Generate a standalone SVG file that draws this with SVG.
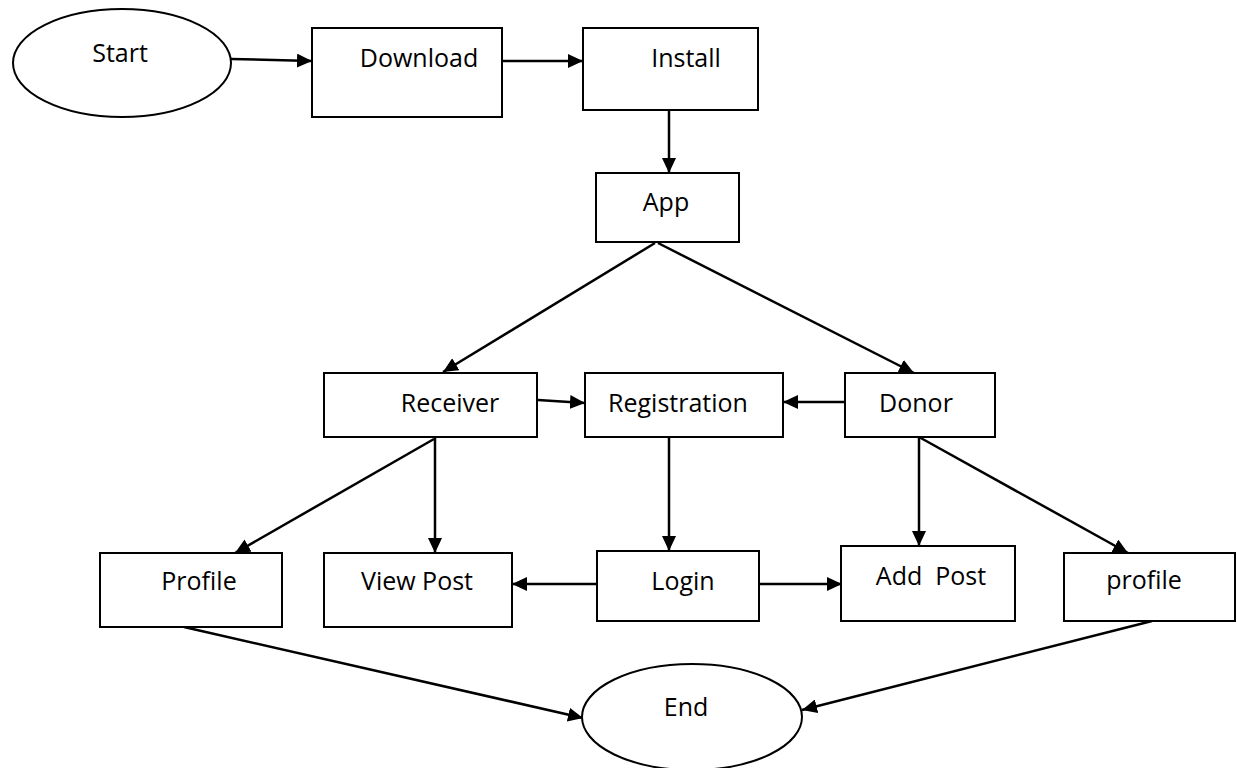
<svg xmlns="http://www.w3.org/2000/svg" width="1237" height="768" viewBox="0 0 1237 768">
  <style>
    .node { fill: #ffffff; stroke: #000000; stroke-width: 2; }
    .label { font-family: "Open Sans", "Liberation Sans", sans-serif; font-size: 25px; fill: #000000; text-anchor: middle; }
    .edge { fill: none; stroke: #000000; stroke-width: 2.5; marker-end: url(#arrow); }
  </style>
  <defs>
    <marker id="arrow" markerWidth="15" markerHeight="14" refX="15" refY="7" orient="auto" markerUnits="userSpaceOnUse">
      <path d="M0,0 L15,7 L0,14 z" fill="#000000"/>
    </marker>
  </defs>
  <rect width="1237" height="768" fill="#ffffff"/>

  <!-- connectors -->
  <g id="connectors">
    <line class="edge" x1="231" y1="59" x2="312" y2="61"/>
    <line class="edge" x1="502" y1="61" x2="583" y2="61"/>
    <line class="edge" x1="669" y1="110" x2="669" y2="173"/>
    <line class="edge" x1="655" y1="243" x2="443" y2="372"/>
    <line class="edge" x1="658" y1="243" x2="914" y2="373"/>
    <line class="edge" x1="538" y1="400" x2="585" y2="403"/>
    <line class="edge" x1="845" y1="402" x2="783" y2="402"/>
    <line class="edge" x1="434" y1="439" x2="235" y2="553"/>
    <line class="edge" x1="435" y1="438" x2="435" y2="553"/>
    <line class="edge" x1="669" y1="437" x2="669" y2="551"/>
    <line class="edge" x1="919" y1="437" x2="919" y2="546"/>
    <line class="edge" x1="919" y1="437" x2="1128" y2="553"/>
    <line class="edge" x1="597" y1="584" x2="512" y2="584"/>
    <line class="edge" x1="759" y1="584" x2="842" y2="584"/>
    <line class="edge" x1="184" y1="627" x2="583" y2="718"/>
    <line class="edge" x1="1152" y1="621" x2="802" y2="710"/>
  </g>

  <!-- nodes -->
  <g id="start">
    <ellipse class="node" cx="122" cy="63" rx="109" ry="54"/>
    <text class="label" x="120" y="62">Start</text>
  </g>
  <g id="download">
    <rect class="node" x="312" y="28" width="190" height="89"/>
    <text class="label" x="419" y="67">Download</text>
  </g>
  <g id="install">
    <rect class="node" x="583" y="28" width="175" height="82"/>
    <text class="label" x="686" y="67">Install</text>
  </g>
  <g id="app">
    <rect class="node" x="596" y="173" width="143" height="69"/>
    <text class="label" x="666" y="211">App</text>
  </g>
  <g id="receiver">
    <rect class="node" x="324" y="373" width="213" height="64"/>
    <text class="label" x="450" y="412">Receiver</text>
  </g>
  <g id="registration">
    <rect class="node" x="585" y="373" width="198" height="64"/>
    <text class="label" x="678" y="412">Registration</text>
  </g>
  <g id="donor">
    <rect class="node" x="845" y="373" width="150" height="64"/>
    <text class="label" x="916" y="412">Donor</text>
  </g>
  <g id="profile-receiver">
    <rect class="node" x="100" y="553" width="182" height="74"/>
    <text class="label" x="199" y="590">Profile</text>
  </g>
  <g id="view-post">
    <rect class="node" x="324" y="553" width="188" height="74"/>
    <text class="label" x="417" y="590">View Post</text>
  </g>
  <g id="login">
    <rect class="node" x="597" y="551" width="162" height="70"/>
    <text class="label" x="683" y="590">Login</text>
  </g>
  <g id="add-post">
    <rect class="node" x="841" y="546" width="174" height="75"/>
    <text class="label" x="931" y="585" xml:space="preserve">Add  Post</text>
  </g>
  <g id="profile-donor">
    <rect class="node" x="1064" y="553" width="171" height="68"/>
    <text class="label" x="1144" y="589">profile</text>
  </g>
  <g id="end">
    <ellipse class="node" cx="692" cy="717" rx="110" ry="53"/>
    <text class="label" x="686" y="716">End</text>
  </g>
</svg>
